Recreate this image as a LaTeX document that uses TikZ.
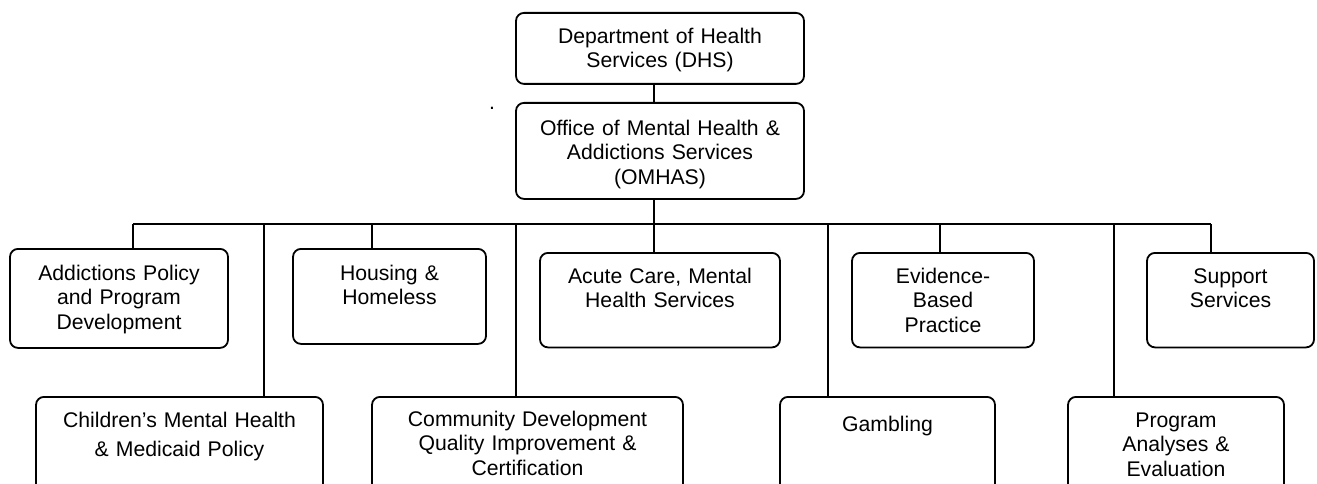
\documentclass[tikz,border=0pt]{standalone}
\usepackage{fontspec}
\setmainfont{Liberation Sans}
\usepackage{tikz}

\begin{document}
\begin{tikzpicture}[x=1pt,y=-1pt,line width=1.8pt]
    \tikzstyle{unit}=[draw=black,rounded corners=8pt,inner sep=0pt,align=center,anchor=north,
        font=\fontsize{21.2pt}{24.5pt}\selectfont,text height=31pt,text depth=64pt]
    \tikzstyle{lower unit}=[unit,text depth=100pt]
    \tikzstyle{link}=[draw=black,line width=1.8pt,rounded corners=0pt]

\useasboundingbox (0,0) rectangle (1317,484);
\clip (0,0) rectangle (1317,484);

% top of the chart
\node[unit,text width=288pt,text height=30.5pt,text depth=40.5pt] (dhs) at (660,12) {Department of Health\\Services (DHS)};
\node[unit,text width=288pt,text height=32.5pt,text depth=63.5pt] (omhas) at (660,102) {Office of Mental Health \&\\Addictions Services\\(OMHAS)};
\node[font=\fontsize{21.2pt}{24.5pt}\selectfont,inner sep=0pt,anchor=base] (dot) at (492,110) {.};

% first row
\node[unit,text width=218pt,text height=31.5pt,text depth=67.5pt] (addict) at (119,248) {Addictions Policy\\and Program\\Development};
\node[unit,text width=193pt,text height=31.5pt,text depth=63.5pt] (housing) at (389.5,248) {Housing \&\\Homeless};
\node[unit,text width=240pt,text height=30.5pt] (acute) at (660,252) {Acute Care, Mental\\Health Services};
\node[unit,text width=182pt,text height=30.5pt] (evidence) at (943,252) {Evidence-\\Based\\Practice};
\node[unit,text width=167pt,text height=30.5pt] (support) at (1230.5,252) {Support\\Services};

% second row
\node[lower unit,text width=287pt,text height=30.5pt] (children) at (179.5,396) {Children’s Mental Health\\[4.5pt]\& Medicaid Policy};
\node[lower unit,text width=311pt,text height=29.5pt] (community) at (527.5,396) {Community Development\\Quality Improvement \&\\Certification};
\node[lower unit,text width=215pt,text height=34.5pt] (gambling) at (887.5,396) {Gambling};
\node[lower unit,text width=216pt,text height=30.5pt] (program) at (1176,396) {Program\\Analyses \&\\Evaluation};

% the bus and its drops
\coordinate (j1) at (133,224);
\coordinate (j2) at (264,224);
\coordinate (j3) at (372,224);
\coordinate (j4) at (516,224);
\coordinate (j5) at (654,224);
\coordinate (j6) at (828,224);
\coordinate (j7) at (940,224);
\coordinate (j8) at (1114,224);
\coordinate (j9) at (1211,224);

\draw[link] (dhs.south -| j5) -- (omhas.north -| j5);
\draw[link] (omhas.south -| j5) -- (j5);
\draw[link] (j1) -- (j9);

\draw[link] (j1) -- (addict.north -| j1);
\draw[link] (j2) -- (children.north -| j2);
\draw[link] (j3) -- (housing.north -| j3);
\draw[link] (j4) -- (community.north -| j4);
\draw[link] (j5) -- (acute.north -| j5);
\draw[link] (j6) -- (gambling.north -| j6);
\draw[link] (j7) -- (evidence.north -| j7);
\draw[link] (j8) -- (program.north -| j8);
\draw[link] (j9) -- (support.north -| j9);
\end{tikzpicture}
\end{document}
